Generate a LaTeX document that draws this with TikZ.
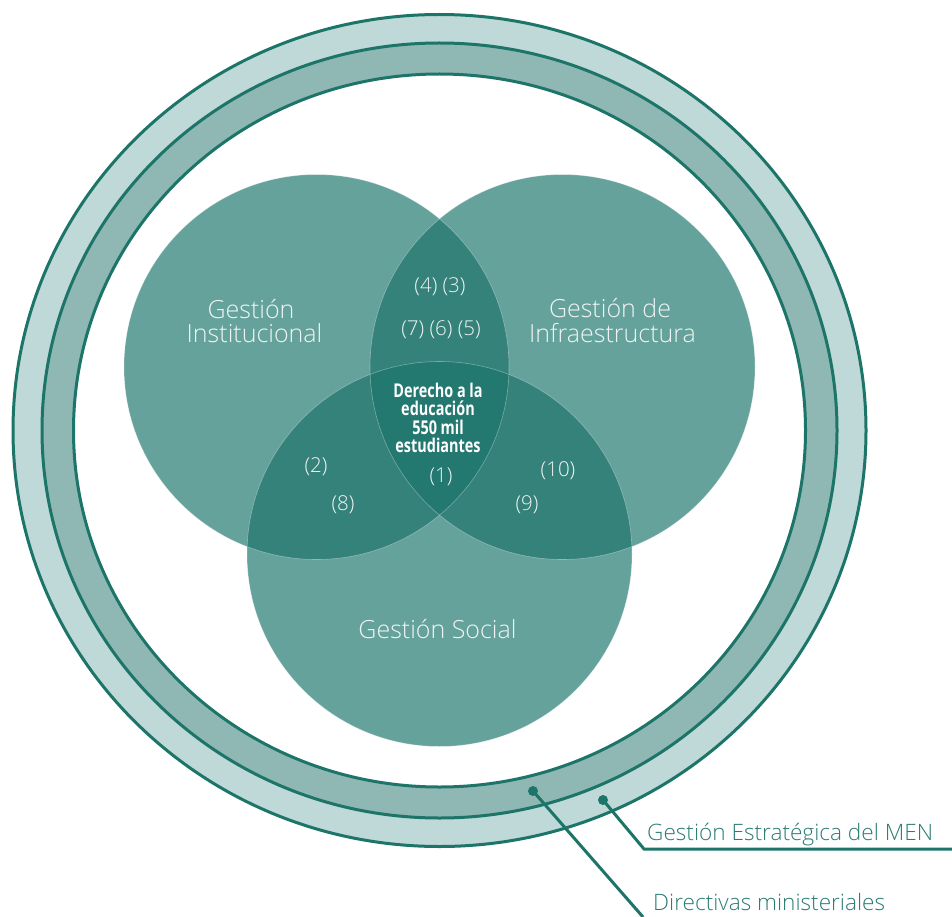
\documentclass[tikz,border=0pt]{standalone}
\usepackage{fontspec}
\setmainfont{Open Sans Light}
\newfontfamily\boldcond{Open Sans}[FakeStretch=0.76]
\definecolor{ringline}{HTML}{1C7568}
\definecolor{bandout}{HTML}{BFD8D8}
\definecolor{bandin}{HTML}{8FB8B5}
\definecolor{circfill}{HTML}{66A29C}
\definecolor{pairfill}{HTML}{35827A}
\definecolor{trifill}{HTML}{237870}
\definecolor{txtw}{HTML}{EEF4F3}
\definecolor{txtd}{HTML}{2A7C72}
\begin{document}
\begin{tikzpicture}[x=1pt,y=-1pt,
  ringedge/.style={draw=ringline, line width=3pt},
  lbl/.style={text=txtw, font=\fontsize{25}{25}\selectfont, inner sep=0pt, anchor=base},
  num/.style={text=txtw, font=\fontsize{20.5}{20.5}\selectfont, inner sep=0pt, anchor=base},
  ctr/.style={text=white, font=\boldcond\bfseries\fontsize{19}{19}\selectfont, inner sep=0pt, anchor=base},
  outlbl/.style={text=txtd, font=\fontsize{22.6}{22.6}\selectfont, inner sep=0pt, anchor=base west},
  leader/.style={draw=ringline, line width=3pt},
  dotmark/.style={circle, fill=ringline, inner sep=0pt, minimum size=10pt},
  seam/.style={draw=white, draw opacity=0.35, line width=0.6pt}
]
\useasboundingbox (0,0) rectangle (952,917);
% rings
\fill[bandout] (439.5,430.5) ellipse [x radius=426.5pt, y radius=416pt];
\fill[bandin] (439.5,430.5) ellipse [x radius=397.5pt, y radius=387.5pt];
\fill[white] (439.5,430.5) ellipse [x radius=366pt, y radius=356.5pt];
\draw[ringedge] (439.5,430.5) ellipse [x radius=426.5pt, y radius=416pt];
\draw[ringedge] (439.5,430.5) ellipse [x radius=397.5pt, y radius=387.5pt];
\draw[ringedge] (439.5,430.5) ellipse [x radius=366pt, y radius=356.5pt];
% venn circles
\coordinate (cI) at (316.5,367);
\coordinate (cR) at (562.5,367);
\coordinate (cS) at (439.5,554);
\fill[circfill] (cI) circle [radius=192.5pt];
\fill[circfill] (cR) circle [radius=192.5pt];
\fill[circfill] (cS) circle [radius=192.5pt];
\begin{scope}
  \clip (cI) circle [radius=192.5pt];
  \fill[pairfill] (cR) circle [radius=192.5pt];
  \fill[pairfill] (cS) circle [radius=192.5pt];
\end{scope}
\begin{scope}
  \clip (cR) circle [radius=192.5pt];
  \fill[pairfill] (cS) circle [radius=192.5pt];
\end{scope}
\begin{scope}
  \clip (cI) circle [radius=192.5pt];
  \clip (cR) circle [radius=192.5pt];
  \fill[trifill] (cS) circle [radius=192.5pt];
\end{scope}
\draw[seam] (cI) circle [radius=192.5pt];
\draw[seam] (cR) circle [radius=192.5pt];
\draw[seam] (cS) circle [radius=192.5pt];
% circle labels
\node[lbl] (gi1) at (251,318) {Gestión};
\node[lbl] (gi2) at (254.5,342) {Institucional};
\node[lbl] (gr1) at (610,317) {Gestión de};
\node[lbl] (gr2) at (612.5,342) {Infraestructura};
\node[lbl] (gs) at (437.5,638) {Gestión Social};
% numbers
\node[num] (n43) at (440,292) {(4) (3)};
\node[num] (n765) at (441,335) {(7) (6) (5)};
\node[num] (n1) at (441,482) {(1)};
\node[num] (n2) at (316,472) {(2)};
\node[num] (n8) at (343,510) {(8)};
\node[num] (n10) at (558,476) {(10)};
\node[num] (n9) at (527,510) {(9)};
% center text
\node[ctr] (d1) at (438,397) {Derecho a la};
\node[ctr] (d2) at (438,415.5) {educación};
\node[ctr] (d3) at (438,434) {550 mil};
\node[ctr] (d4) at (438,452.5) {estudiantes};
% leaders
\node[dotmark] (dotA) at (533,791) {};
\node[dotmark] (dotB) at (603,800) {};
\coordinate (endA) at (643,917);
\coordinate (bendB) at (644,849);
\coordinate (endB) at (952,849);
\draw[leader] (dotA.center) -- (endA);
\draw[leader] (dotB.center) -- (bendB) -- (endB);
\node[outlbl] (lblB) at (647,840) {Gestión Estratégica del MEN};
\node[outlbl] (lblA) at (653,910) {Directivas ministeriales};
\end{tikzpicture}
\end{document}
